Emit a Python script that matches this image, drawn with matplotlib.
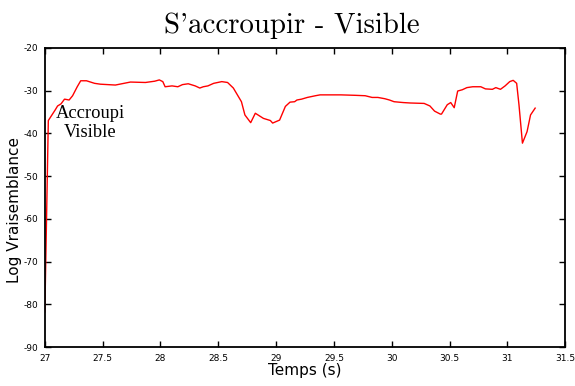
import matplotlib
matplotlib.use("Agg")
import matplotlib.pyplot as plt

plt.rcParams["axes.unicode_minus"] = False

t = [27.0, 27.03, 27.09, 27.11, 27.14, 27.17, 27.21, 27.24, 27.28, 27.31, 27.36, 27.43, 27.48,
     27.61, 27.74, 27.87, 27.95, 27.99, 28.02, 28.04, 28.10, 28.15, 28.19, 28.24, 28.30, 28.34,
     28.37, 28.41, 28.46, 28.53, 28.58, 28.63, 28.70, 28.73, 28.78, 28.82, 28.89, 28.95, 28.97,
     29.03, 29.08, 29.12, 29.16, 29.18, 29.22, 29.27, 29.34, 29.38, 29.56, 29.68, 29.77, 29.83,
     29.88, 29.94, 29.98, 30.02, 30.10, 30.16, 30.28, 30.33, 30.37, 30.42, 30.43, 30.48, 30.51,
     30.54, 30.57, 30.61, 30.65, 30.70, 30.77, 30.81, 30.87, 30.90, 30.94, 30.98, 31.02, 31.05,
     31.08, 31.10, 31.13, 31.17, 31.20, 31.24]
loglik = [-81.8, -37.0, -34.5, -33.6, -33.1, -32.0, -32.2, -31.2, -29.1, -27.7, -27.7, -28.3, -28.5,
          -28.7, -28.0, -28.1, -27.8, -27.5, -27.9, -29.1, -28.9, -29.1, -28.6, -28.4, -28.9, -29.4,
          -29.1, -28.9, -28.3, -27.9, -28.1, -29.4, -32.6, -35.7, -37.5, -35.3, -36.5, -37.0, -37.6,
          -36.9, -33.7, -32.7, -32.6, -32.2, -32.0, -31.6, -31.2, -31.0, -31.0, -31.1, -31.2, -31.6,
          -31.6, -31.9, -32.2, -32.6, -32.8, -32.9, -33.0, -33.6, -34.8, -35.5, -35.5, -33.3, -32.8,
          -34.0, -30.1, -29.8, -29.3, -29.1, -29.1, -29.6, -29.7, -29.3, -29.7, -28.9, -27.9, -27.6,
          -28.3, -33.3, -42.3, -39.6, -35.7, -34.1]

xticks = [27, 27.5, 28, 28.5, 29, 29.5, 30, 30.5, 31, 31.5]
xticklabels = ["27", "27.5", "28", "28.5", "29", "29.5", "30", "30.5", "31", "31.5"]
yticks = [-90, -80, -70, -60, -50, -40, -30, -20]

fig = plt.figure(figsize=(5.75, 3.86), dpi=100)
ax = fig.add_axes([0.078, 0.101, 0.905, 0.775])
ax.plot(t, loglik, color="red", linewidth=1.0)
ax.set_xlim(27, 31.5)
ax.set_ylim(-90, -20)
ax.set_xticks(xticks)
ax.set_xticklabels(xticklabels)
ax.set_yticks(yticks)
ax.tick_params(direction="in", top=True, right=True, labelsize=6.5, length=4, width=1, pad=5)
for s in ax.spines.values():
    s.set_linewidth(1.3)
ax.set_xlabel("Temps (s)", fontsize=11, labelpad=0)
ax.set_ylabel("Log Vraisemblance", fontsize=11)
ax.yaxis.set_label_coords(-0.044, 0.458)
fig.text(0.508, 0.915, "S'accroupir - Visible", family=["cmr10", "DejaVu Serif"], fontsize=20.8,
         ha="center", va="baseline")
ax.text(27.39, -37.6, "Accroupi\nVisible", family="Liberation Serif", fontsize=13.3,
        ha="center", va="center", linespacing=1.2)
fig.savefig("out.png", dpi=100)
